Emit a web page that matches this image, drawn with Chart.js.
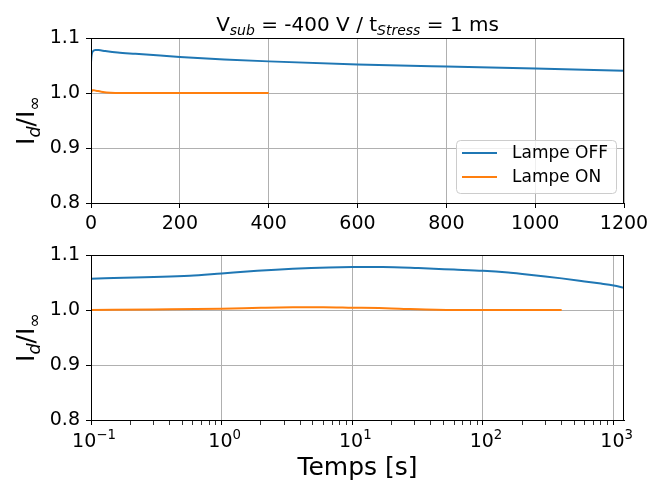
<!DOCTYPE html>
<html>
<head>
<meta charset="utf-8">
<script src="https://cdn.jsdelivr.net/npm/chart.js@4.4.1/dist/chart.umd.min.js"></script>
<style>
  body { margin: 0; background: #fff; }
  #wrap { position: relative; width: 651px; height: 481px; }
  canvas { position: absolute; left: 0; }
</style>
</head>
<body>
<div id="wrap">
  <canvas id="topChart" width="651" height="240" style="top:0"></canvas>
  <canvas id="logChart" width="651" height="241" style="top:240px"></canvas>
</div>
<script>
// Lampe OFF (time in s, normalized current)
const tOff = [0.1, 0.57, 1, 1.87, 3.5, 6.6, 10, 17, 32, 60, 100, 156, 200, 300, 400, 600, 800, 1000, 1200];
const iOff = [1.057, 1.0622, 1.0665, 1.0713, 1.075, 1.0774, 1.078, 1.078, 1.0762, 1.0735, 1.0712, 1.068, 1.0655, 1.061, 1.0575, 1.052, 1.048, 1.0445, 1.0405];

// Lampe ON
const tOn = [0.1, 0.3, 1, 2, 3.5, 6, 10, 16, 23, 44, 100, 200, 400];
const iOn = [1.0, 1.001, 1.0024, 1.004, 1.005, 1.0052, 1.0043, 1.0035, 1.0024, 1.0006, 1.0, 1.0, 1.0];

const seriesLabels = ['Lampe OFF', 'Lampe ON'];
const seriesColors = ['#1f77b4', '#ff7f0e'];

const yTicks = [0.8, 0.9, 1.0, 1.1];
const xTicksTop = [0, 200, 400, 600, 800, 1000, 1200];
const logMajor = [0.1, 1, 10, 100, 1000];
const logExp = ['\u22121', '0', '1', '2', '3'];

const FONT = "'DejaVu Sans', sans-serif";
const GRID = '#b0b0b0';

function pts(xs, ys) {
    return xs.map((x, i) => ({ x: x, y: ys[i] }));
}

function datasets() {
    return [
        { label: seriesLabels[0], data: pts(tOff, iOff), borderColor: seriesColors[0] },
        { label: seriesLabels[1], data: pts(tOn, iOn), borderColor: seriesColors[1] }
    ].map(d => Object.assign(d, {
        borderWidth: 2, pointRadius: 0, fill: false, cubicInterpolationMode: 'monotone'
    }));
}

// draws text made of parts, some of them sub/superscript or italic
function drawRich(ctx, parts, x, y, size, rotate) {
    ctx.save();
    ctx.translate(x, y);
    if (rotate) ctx.rotate(-Math.PI / 2);
    ctx.fillStyle = '#000';
    ctx.textBaseline = 'alphabetic';
    const small = p => p.sub || p.sup;
    const fontOf = p => (p.it ? 'italic ' : '') + (small(p) ? size * 0.7 : size) + 'px ' + FONT;
    let total = 0;
    parts.forEach(p => { ctx.font = fontOf(p); total += ctx.measureText(p.t).width; });
    let cx = -total / 2;
    parts.forEach(p => {
        ctx.font = fontOf(p);
        const dy = p.sub ? size * 0.22 : (p.sup ? -size * 0.42 : 0);
        ctx.fillText(p.t, cx, dy);
        cx += ctx.measureText(p.t).width;
    });
    ctx.restore();
}

const yLabelParts = [{ t: 'I' }, { t: 'd', sub: true, it: true }, { t: '/I' }, { t: '\u221E', sub: true }];

const framePlugin = {
    id: 'frame',
    afterDraw(chart) {
        const { ctx, chartArea: a } = chart;
        ctx.save();
        ctx.strokeStyle = '#000';
        ctx.lineWidth = 1;
        ctx.strokeRect(Math.round(a.left) + 0.5, Math.round(a.top) + 0.5,
            Math.round(a.right - a.left) - 1, Math.round(a.bottom - a.top));
        ctx.restore();
        drawRich(ctx, yLabelParts, 34, (a.top + a.bottom) / 2, 25, true);
    }
};

const titlePlugin = {
    id: 'richTitle',
    afterDraw(chart) {
        const a = chart.chartArea;
        drawRich(chart.ctx, [
            { t: 'V' }, { t: 'sub', sub: true, it: true }, { t: ' = -400 V / t' },
            { t: 'Stress', sub: true, it: true }, { t: ' = 1 ms' }
        ], (a.left + a.right) / 2, 31, 20, false);
    }
};

const legendPlugin = {
    id: 'boxLegend',
    afterDraw(chart) {
        const ctx = chart.ctx;
        const x0 = 456, y0 = 140, w = 160, h = 53;
        ctx.save();
        ctx.fillStyle = 'rgba(255,255,255,0.8)';
        ctx.strokeStyle = '#cccccc';
        ctx.lineWidth = 1;
        ctx.beginPath();
        ctx.roundRect(x0 + 0.5, y0 + 0.5, w, h, 4);
        ctx.fill();
        ctx.stroke();
        ctx.font = '17px ' + FONT;
        ctx.textBaseline = 'middle';
        chart.data.datasets.forEach((d, i) => {
            const yy = y0 + 13 + i * 24;
            ctx.strokeStyle = d.borderColor;
            ctx.lineWidth = 2;
            ctx.beginPath();
            ctx.moveTo(462, yy);
            ctx.lineTo(497, yy);
            ctx.stroke();
            ctx.fillStyle = '#000';
            ctx.fillText(d.label, 512, yy + 1);
        });
        ctx.restore();
    }
};

const logAxisPlugin = {
    id: 'logAxis',
    afterDraw(chart) {
        const a = chart.chartArea;
        const ctx = chart.ctx;
        const xs = chart.scales.x;
        logMajor.forEach((m, i) => {
            drawRich(ctx, [{ t: '10' }, { t: logExp[i], sup: true }], xs.getPixelForValue(m) + 3, 207, 19, false);
        });
        ctx.save();
        ctx.font = '25px ' + FONT;
        ctx.fillStyle = '#000';
        ctx.textAlign = 'center';
        ctx.textBaseline = 'middle';
        ctx.fillText('Temps [s]', (a.left + a.right) / 2, 228);
        ctx.restore();
    }
};

function yScale() {
    return {
        min: 0.8, max: 1.1,
        afterBuildTicks: s => { s.ticks = yTicks.map(v => ({ value: v })); },
        afterFit: s => { s.width = 91; s.paddingTop = 0; s.paddingBottom = 0; },
        grid: { color: GRID, lineWidth: 1, tickColor: '#000', tickLength: 5 },
        border: { display: true, color: '#000', width: 1 },
        ticks: {
            font: { family: FONT, size: 19 }, color: '#000', padding: 6,
            callback: v => v.toFixed(1)
        }
    };
}

function isMajor(v) {
    return logMajor.findIndex(m => Math.abs(Math.log10(v) - Math.log10(m)) < 1e-6);
}

function baseOptions(padTop, xScale) {
    return {
        responsive: false,
        animation: false,
        layout: { padding: { top: padTop, right: 27, left: 0, bottom: 0 } },
        plugins: { legend: { display: false }, tooltip: { enabled: false } },
        scales: { x: xScale, y: yScale() }
    };
}

new Chart(document.getElementById('topChart'), {
    type: 'line',
    data: { datasets: datasets() },
    options: baseOptions(38, {
        type: 'linear', min: 0, max: 1200,
        afterBuildTicks: s => { s.ticks = xTicksTop.map(v => ({ value: v })); },
        afterFit: s => { s.height = 37; s.paddingLeft = 0; s.paddingRight = 0; },
        grid: { color: GRID, lineWidth: 1, tickColor: '#000', tickLength: 5 },
        border: { display: true, color: '#000', width: 1 },
        ticks: {
            font: { family: FONT, size: 19 }, color: '#000', padding: 5, maxRotation: 0, autoSkip: false,
            callback: v => String(v)
        }
    }),
    plugins: [framePlugin, titlePlugin, legendPlugin]
});

new Chart(document.getElementById('logChart'), {
    type: 'line',
    data: { datasets: datasets() },
    options: baseOptions(15, {
        type: 'logarithmic', min: 0.1, max: 1200,
        afterBuildTicks: s => {
            const t = [];
            logMajor.forEach(m => {
                t.push({ value: m });
                for (let k = 2; k <= 9; k++) if (m * k <= 1200) t.push({ value: m * k });
            });
            s.ticks = t;
        },
        afterFit: s => { s.height = 61; s.paddingLeft = 0; s.paddingRight = 0; },
        grid: {
            color: c => (c.tick && isMajor(c.tick.value) >= 0) ? GRID : 'rgba(0,0,0,0)',
            lineWidth: 1, tickColor: '#000', tickLength: 5,
            tickWidth: c => (c.tick && isMajor(c.tick.value) >= 0) ? 1 : 0.8
        },
        border: { display: true, color: '#000', width: 1 },
        ticks: { display: false }
    }),
    plugins: [framePlugin, logAxisPlugin]
});
</script>
</body>
</html>
